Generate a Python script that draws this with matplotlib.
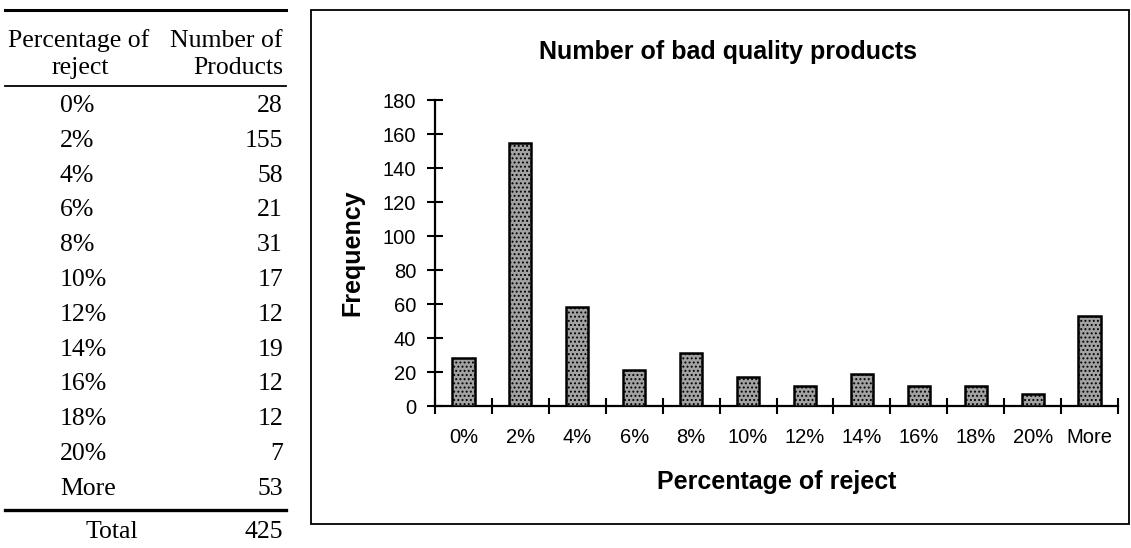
import matplotlib.pyplot as plt
from matplotlib.patches import Rectangle
from matplotlib.lines import Line2D

# histogram bins and counts of rejected products
bins = ["0%", "2%", "4%", "6%", "8%", "10%", "12%", "14%", "16%", "18%", "20%", "More"]
counts = [28, 155, 58, 21, 31, 17, 12, 19, 12, 12, 7, 53]
total = 425
y_ticks = [0, 20, 40, 60, 80, 100, 120, 140, 160, 180]

W, H = 1131, 548
fig = plt.figure(figsize=(W / 100, H / 100), dpi=100)
fig.patch.set_facecolor("white")


def fx(px):
    return px / W


def fy(py):
    return 1 - py / H


# ---- frequency table on the left ----
serif = "Liberation Serif"
tsize = 18.5
fig.add_artist(Line2D([fx(5), fx(286)], [fy(10), fy(10)], color="black", lw=2.2))
fig.text(fx(8), fy(41), "Percentage of", fontsize=tsize, family=serif, ha="left", va="center")
fig.text(fx(283), fy(41), "Number of", fontsize=tsize, family=serif, ha="right", va="center")
fig.text(fx(80), fy(68), "reject", fontsize=tsize, family=serif, ha="center", va="center")
fig.text(fx(283), fy(68), "Products", fontsize=tsize, family=serif, ha="right", va="center")
fig.add_artist(Line2D([fx(5), fx(286)], [fy(86), fy(86)], color="black", lw=1.3))

row0, step = 106, 34.8
for i, (b, c) in enumerate(zip(bins, counts)):
    y = row0 + i * step
    fig.text(fx(60), fy(y), b, fontsize=tsize, family=serif, ha="left", va="center")
    fig.text(fx(283), fy(y), str(c), fontsize=tsize, family=serif, ha="right", va="center")

fig.add_artist(Line2D([fx(5), fx(286)], [fy(510), fy(510)], color="black", lw=2.4))
fig.text(fx(112), fy(532), "Total", fontsize=tsize, family=serif, ha="center", va="center")
fig.text(fx(283), fy(532), str(total), fontsize=tsize, family=serif, ha="right", va="center")

# ---- chart frame ----
fig.add_artist(Rectangle((fx(311), fy(524)), fx(1129) - fx(311), fy(10) - fy(524),
                         transform=fig.transFigure, fill=False, edgecolor="black", lw=1.3))

# ---- histogram ----
sans = "Liberation Sans"
plt.rcParams["hatch.color"] = "#333333"
plt.rcParams["hatch.linewidth"] = 0.9

ax = fig.add_axes([fx(435), fy(406), fx(1118) - fx(435), fy(100) - fy(406)])
x = list(range(len(bins)))
ax.bar(x, counts, width=0.39, color="#a2a2a2", edgecolor="black", linewidth=1.8,
       hatch="....", zorder=3)

ax.set_xlim(-0.5, len(bins) - 0.5)
ax.set_ylim(0, 180)
ax.set_yticks(y_ticks)
ax.set_yticklabels([str(v) for v in y_ticks], fontsize=14.5, family=sans)
ax.set_xticks([i - 0.5 for i in range(len(bins) + 1)])
ax.set_xticklabels([])
ax.set_xticks(x, minor=True)
ax.set_xticklabels(bins, minor=True, fontsize=14.5, family=sans)
ax.tick_params(axis="x", which="major", direction="inout", length=11, width=1.5)
ax.tick_params(axis="x", which="minor", length=0, pad=16)
ax.tick_params(axis="y", direction="inout", length=11, width=1.5, pad=8)

for side in ["top", "right"]:
    ax.spines[side].set_visible(False)
for side in ["left", "bottom"]:
    ax.spines[side].set_linewidth(1.6)
ax.patch.set_alpha(0)

fig.text(fx(728), fy(52), "Number of bad quality products", fontsize=18, family=sans,
         fontweight="bold", ha="center", va="center")
fig.text(fx(777), fy(482), "Percentage of reject", fontsize=18, family=sans,
         fontweight="bold", ha="center", va="center")
fig.text(fx(352), fy(253), "Frequency", fontsize=18, family=sans, fontweight="bold",
         ha="center", va="center", rotation=90)

fig.savefig("out.png", dpi=100)
